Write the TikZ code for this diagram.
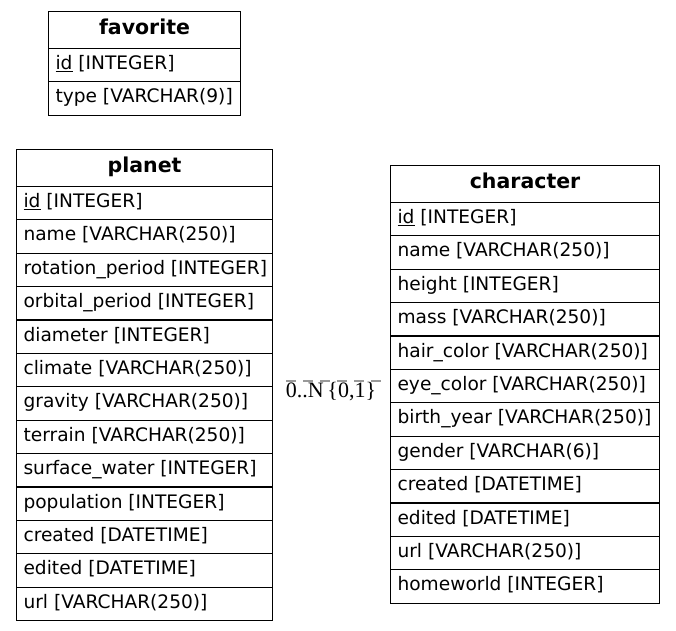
\documentclass[tikz,border=0pt]{standalone}
\usepackage{fontspec}
\setmainfont{DejaVu Sans}
\newfontfamily\lblfont{Liberation Serif}
\tikzset{
  x=1pt, y=-1pt,
  tblline/.style={line width=1.1pt, draw=black},
  hdrbox/.style={tblline, rectangle, anchor=north west, minimum height=36.8pt, inner sep=0pt,
     text height=14pt, text depth=5pt, font=\bfseries\fontsize{20.5}{24}\selectfont},
  rowbox/.style={tblline, rectangle, anchor=north west, minimum height=33.4pt, inner xsep=7pt, inner ysep=0pt,
     text height=13pt, text depth=4pt, font=\fontsize{18.6}{22}\selectfont},
  relline/.style={draw=black!40, line width=1.1pt, dash pattern=on 10pt off 7pt, dash phase=10pt},
  rellabel/.style={font=\lblfont\fontsize{22}{26}\selectfont, inner sep=0pt}
}
\begin{document}
\begin{tikzpicture}
\useasboundingbox (0,0) rectangle (676,630);
% favorite
\node[hdrbox, minimum width=192pt] (fav) at (48,11) {favorite};
\foreach \t [count=\i] in {{\underline{id} [INTEGER]},{type [VARCHAR(9)]}}
  \node[rowbox] (fav-\i) at (48,{11+36.8+(\i-1)*33.4}) {\makebox[178pt][l]{\t}};
% planet
\node[hdrbox, minimum width=256pt] (planet) at (16,149) {planet};
\foreach \t [count=\i] in {{\underline{id} [INTEGER]},{name [VARCHAR(250)]},{rotation\_period [INTEGER]},
  {orbital\_period [INTEGER]},{diameter [INTEGER]},{climate [VARCHAR(250)]},{gravity [VARCHAR(250)]},
  {terrain [VARCHAR(250)]},{surface\_water [INTEGER]},{population [INTEGER]},{created [DATETIME]},
  {edited [DATETIME]},{url [VARCHAR(250)]}}
  \node[rowbox] (planet-\i) at (16,{149+36.8+(\i-1)*33.4}) {\makebox[242pt][l]{\t}};
% character
\node[hdrbox, minimum width=269pt] (character) at (390,165) {character};
\foreach \t [count=\i] in {{\underline{id} [INTEGER]},{name [VARCHAR(250)]},{height [INTEGER]},
  {mass [VARCHAR(250)]},{hair\_color [VARCHAR(250)]},{eye\_color [VARCHAR(250)]},{birth\_year [VARCHAR(250)]},
  {gender [VARCHAR(6)]},{created [DATETIME]},{edited [DATETIME]},{url [VARCHAR(250)]},{homeworld [INTEGER]}}
  \node[rowbox] (character-\i) at (390,{165+36.8+(\i-1)*33.4}) {\makebox[255pt][l]{\t}};
% relation
\coordinate (rel) at (300,381);
\draw[relline, shorten <=6pt, shorten >=6pt] (planet.east |- rel) -- (character.west |- rel);
\node[rellabel] (rellbl) at (331,392) {0..N\,\{0,1\}};
\end{tikzpicture}
\end{document}
